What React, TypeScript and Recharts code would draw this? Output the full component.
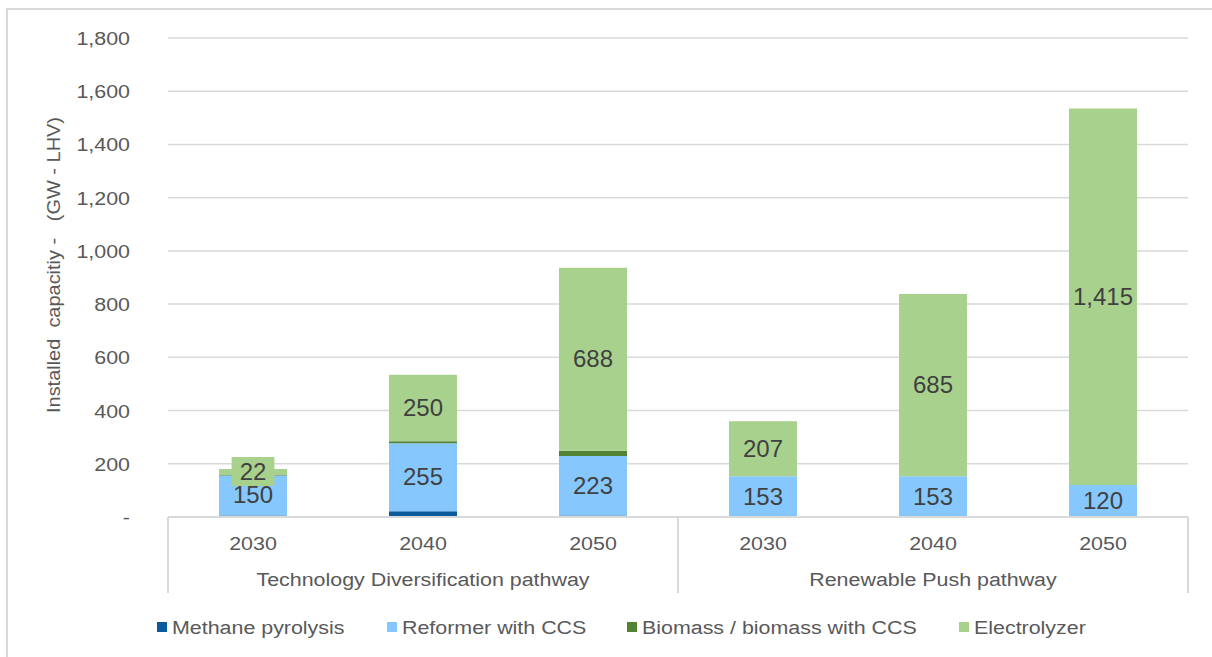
import React from "react";
import {
  BarChart,
  Bar,
  XAxis,
  YAxis,
  CartesianGrid,
  Legend,
  LabelList,
} from "recharts";

const years = ["2030", "2040", "2050", "2030", "2040", "2050"];
const pathways = [
  "Technology Diversification pathway",
  "Technology Diversification pathway",
  "Technology Diversification pathway",
  "Renewable Push pathway",
  "Renewable Push pathway",
  "Renewable Push pathway",
];
const methanePyrolysis = [6, 22, 6, 0, 0, 0];
const reformerCcs = [150, 255, 223, 153, 153, 120];
const biomass = [2, 8, 20, 0, 0, 0];
const electrolyzer = [22, 250, 688, 207, 685, 1415];
const yTicks = [0, 200, 400, 600, 800, 1000, 1200, 1400, 1600, 1800];

const series = [
  { key: "methane", name: "Methane pyrolysis", color: "#0B5A9C" },
  { key: "reformer", name: "Reformer with CCS", color: "#86C8FE" },
  { key: "biomass", name: "Biomass / biomass with CCS", color: "#548235" },
  { key: "electrolyzer", name: "Electrolyzer", color: "#A9D18E" },
];

const data = years.map((year, i) => ({
  year,
  pathway: pathways[i],
  methane: methanePyrolysis[i],
  reformer: reformerCcs[i],
  biomass: biomass[i],
  electrolyzer: electrolyzer[i],
}));

const FONT = "'Liberation Sans', Arial, sans-serif";
const AXIS_TEXT = "#595959";
const LABEL_TEXT = "#404040";
const GRID = "#d9d9d9";
// axis texts in the original are a bit wider than the font
const STRETCH = 1.19;

const fmt = (v: number) => v.toLocaleString("en-US");

const WideText = ({ x, y, anchor, children }: any) => (
  <text
    transform={`translate(${x} ${y}) scale(${STRETCH} 1)`}
    textAnchor={anchor}
    fill={AXIS_TEXT}
    fontSize={18}
    fontFamily={FONT}
  >
    {children}
  </text>
);

// year label, group label and the separators of the two-level axis
const YearTick = (props: any) => {
  const { x, y, payload, index } = props;
  const half = payload && payload.offset ? payload.offset : 85;
  return (
    <g>
      <WideText x={x} y={y + 33} anchor="middle">
        {payload.value}
      </WideText>
      {index % 3 === 1 && (
        <WideText x={x} y={y + 69} anchor="middle">
          {pathways[index]}
        </WideText>
      )}
      {index % 3 === 0 && (
        <line x1={x - half} x2={x - half} y1={y} y2={y + 76} stroke={GRID} strokeWidth={2} />
      )}
      {index === years.length - 1 && (
        <line x1={x + half} x2={x + half} y1={y} y2={y + 76} stroke={GRID} strokeWidth={2} />
      )}
    </g>
  );
};

const ValueTick = (props: any) => {
  const { x, y, payload } = props;
  const v = payload.value;
  return (
    <WideText x={x} y={y + 7} anchor="end">
      {v === 0 ? "-" : fmt(v)}
    </WideText>
  );
};

const SegmentLabel = (props: any) => {
  const { x, y, width, height, value, boxFill } = props;
  if (!value) return null;
  const cx = x + width / 2;
  const cy = y + height / 2;
  const text = fmt(value);
  const w = text.length * 13.4 + 16;
  return (
    <g>
      {boxFill && Math.abs(height) < 30 && (
        <rect x={cx - w / 2} y={cy - 15} width={w} height={29} fill={boxFill} />
      )}
      <text
        x={cx}
        y={cy + 8}
        textAnchor="middle"
        fill={LABEL_TEXT}
        fontSize={24}
        fontFamily={FONT}
      >
        {text}
      </text>
    </g>
  );
};

const legendX = [157, 387, 627, 959];

const LegendContent = () => (
  <svg width={1212} height={30} style={{ display: "block" }}>
    {series.map((s, i) => (
      <g key={s.key}>
        <rect x={legendX[i]} y={8} width={10} height={10} fill={s.color} />
        <WideText x={legendX[i] + 15} y={20} anchor="start">
          {s.name}
        </WideText>
      </g>
    ))}
  </svg>
);

const AxisTitle = () => {
  const cx = 54;
  const cy = 265;
  return (
    <text
      x={cx}
      y={cy}
      transform={`rotate(-90 ${cx} ${cy})`}
      textAnchor="middle"
      dominantBaseline="central"
      textLength={296}
      lengthAdjust="spacingAndGlyphs"
      fill={AXIS_TEXT}
      fontSize={18}
      fontFamily={FONT}
      style={{ whiteSpace: "pre" }}
    >
      {"Installed  capacitiy -   (GW - LHV)"}
    </text>
  );
};

export default function App() {
  return (
    <div
      style={{
        position: "absolute",
        left: 0,
        top: 0,
        width: 1212,
        height: 657,
        overflow: "hidden",
        background: "#fff",
      }}
    >
      <div
        style={{
          position: "absolute",
          left: 6,
          top: 8,
          width: 1230,
          height: 680,
          border: `2px solid ${GRID}`,
        }}
      />
      <BarChart
        width={1212}
        height={657}
        data={data}
        margin={{ top: 38, right: 24, left: 0, bottom: 60 }}
        barCategoryGap="30%"
        style={{ position: "absolute", left: 0, top: 0 }}
      >
        <CartesianGrid vertical={false} stroke={GRID} strokeWidth={1.5} />
        <XAxis
          dataKey="year"
          height={80}
          tickLine={false}
          tickSize={0}
          tickMargin={0}
          interval={0}
          axisLine={{ stroke: GRID, strokeWidth: 2 }}
          tick={<YearTick />}
        />
        <YAxis
          width={168}
          domain={[0, 1800]}
          ticks={yTicks}
          tickLine={false}
          axisLine={false}
          tickSize={0}
          tickMargin={38}
          tick={<ValueTick />}
          label={{ content: <AxisTitle /> }}
        />
        <Legend
          layout="horizontal"
          verticalAlign="middle"
          align="center"
          wrapperStyle={{ top: 614, left: 0, width: 1212 }}
          content={<LegendContent />}
        />
        <Bar dataKey="methane" name="Methane pyrolysis" stackId="a" fill={series[0].color} isAnimationActive={false} />
        <Bar dataKey="reformer" name="Reformer with CCS" stackId="a" fill={series[1].color} isAnimationActive={false}>
          <LabelList dataKey="reformer" content={<SegmentLabel />} />
        </Bar>
        <Bar dataKey="biomass" name="Biomass / biomass with CCS" stackId="a" fill={series[2].color} isAnimationActive={false} />
        <Bar dataKey="electrolyzer" name="Electrolyzer" stackId="a" fill={series[3].color} isAnimationActive={false}>
          <LabelList dataKey="electrolyzer" content={<SegmentLabel boxFill={series[3].color} />} />
        </Bar>
      </BarChart>
    </div>
  );
}
